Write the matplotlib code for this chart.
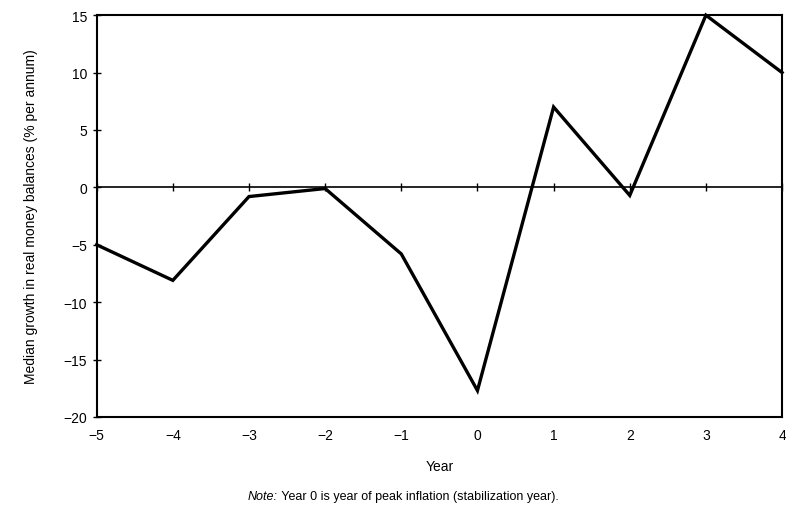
import matplotlib
matplotlib.use('Agg')
import matplotlib.pyplot as plt

plt.rcParams['font.family'] = ['Liberation Sans', 'DejaVu Sans']

years = [-5, -4, -3, -2, -1, 0, 1, 2, 3, 4]
growth = [-5.0, -8.1, -0.8, -0.1, -5.8, -17.7, 7.0, -0.7, 15.0, 10.0]
y_ticks = [-20, -15, -10, -5, 0, 5, 10, 15]
y_min, y_max = -20, 15


def main():
    fig = plt.figure(figsize=(7.86, 5.06), dpi=100)
    ax = fig.add_axes([0.123, 0.174, 0.872, 0.794])

    ax.plot(years, growth, color='black', lw=2.4, solid_joinstyle='miter', clip_on=False)

    ax.set_xlim(years[0], years[-1])
    ax.set_ylim(y_min, y_max)
    ax.set_yticks(y_ticks)
    ax.set_yticklabels(['\u2212%d' % -v if v < 0 else str(v) for v in y_ticks])
    ax.set_xticks(years)
    ax.set_xticklabels(['\u2212%d' % -v if v < 0 else str(v) for v in years])
    ax.tick_params(axis='x', length=0, pad=8, labelsize=10)
    ax.tick_params(axis='y', direction='inout', length=6, width=1, labelsize=10, pad=4)
    for s in ax.spines.values():
        s.set_linewidth(1.5)

    # zero line carrying the year ticks
    zero = ax.secondary_xaxis((0 - y_min) / (y_max - y_min))
    zero.set_xticks(years)
    zero.tick_params(direction='inout', length=6, width=1, labelbottom=False, labeltop=False)
    zero.spines['bottom'].set_linewidth(1.2)
    zero.spines['top'].set_linewidth(1.2)

    ax.set_xlabel('Year', fontsize=10, labelpad=12)
    ax.set_ylabel('Median growth in real money balances (% per annum)', fontsize=10, labelpad=18)

    t1 = fig.text(0.315, 0.012, 'Note:', style='italic', fontsize=9)
    ax.annotate(' Year 0 is year of peak inflation (stabilization year).', xy=(1, 0),
                xycoords=t1, va='bottom', fontsize=9)

    fig.savefig('out.png', dpi=100)
    plt.close(fig)


if __name__ == '__main__':
    main()
